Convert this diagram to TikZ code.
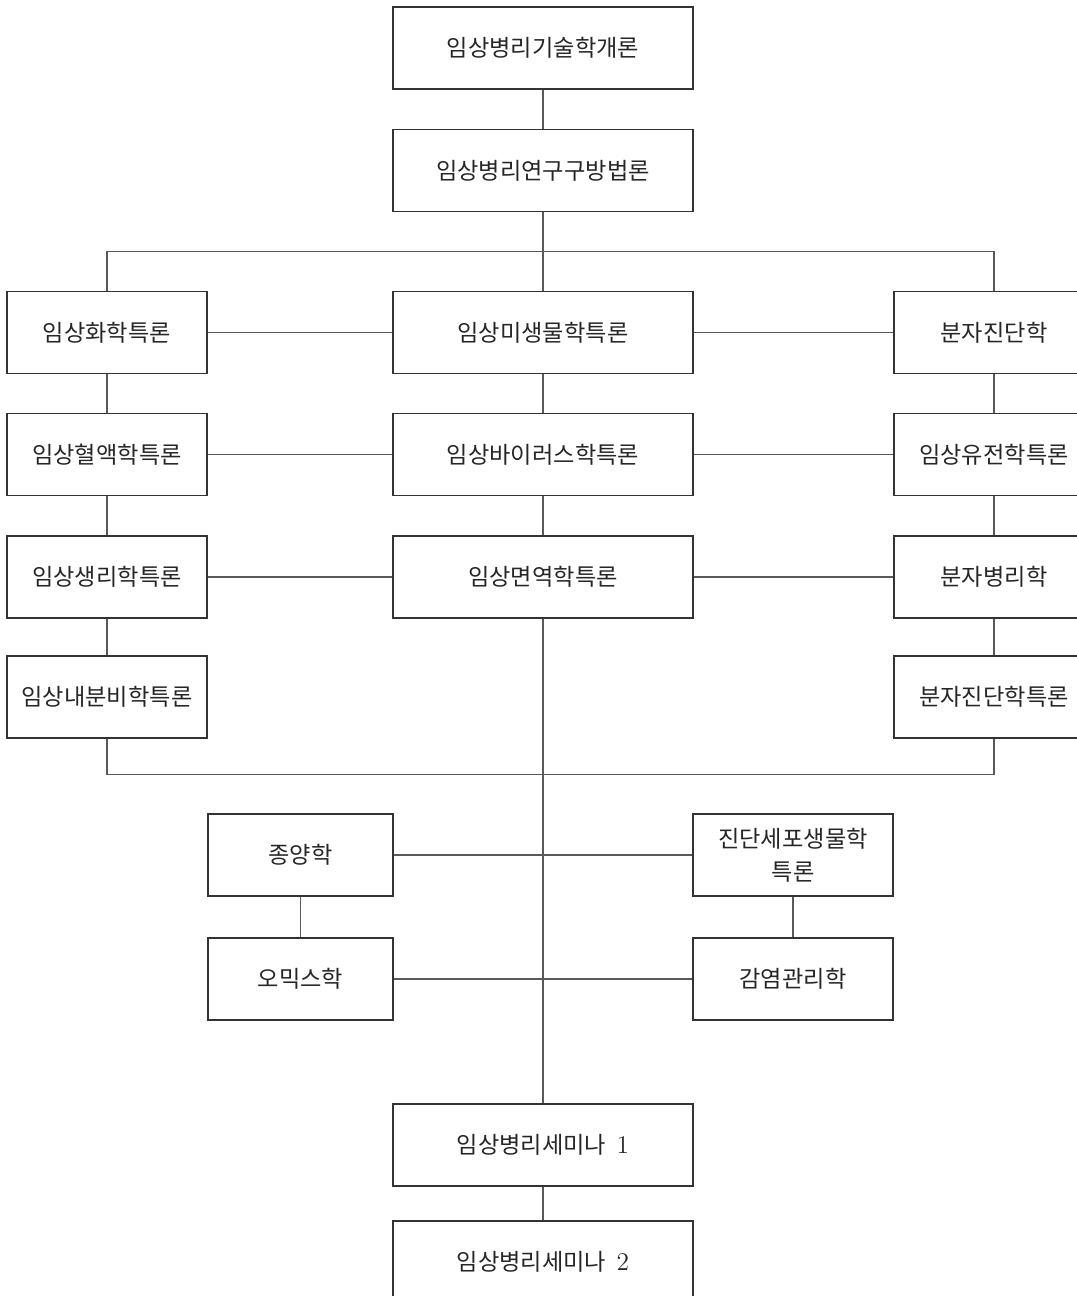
\documentclass[tikz,border=0pt]{standalone}
\usepackage{fontspec}
\newfontfamily\kr{Noto Sans CJK KR}

\begin{document}
\begin{tikzpicture}[
        subj/.style={draw=black!80, line width=0.7pt, minimum height=1.64cm,
                     align=center, text=black!85, inner sep=2pt,
                     font=\fontsize{13.2}{19}\selectfont\kr},
        wide/.style={subj, minimum width=6cm},
        narrow/.style={subj, minimum width=4cm},
        short/.style={subj, minimum width=3.7cm},
        line/.style={draw=black!65, line width=0.7pt},
        num/.style={font=\fontsize{14.5}{19}\selectfont\rmfamily},
    ]

    \useasboundingbox (-10.86,0.96) rectangle (10.68,-24.96);

    \node[wide] (intro) at (0,0) {임상병리기술학개론};
    \node[wide] (meth) at (0,-2.45) {임상병리연구구방법론};

    \draw[line] (intro) -- (meth);

    \node[narrow] (chem) at (-8.72,-5.69) {임상화학특론};
    \node[wide]   (micro) at (0,-5.69) {임상미생물학특론};
    \node[narrow] (mdx) at (9.02,-5.69) {분자진단학};

    \draw[line] (meth.south) -- ++(0,-0.79) -| (chem.north);
    \draw[line] (meth.south) -- ++(0,-0.79) -| (mdx.north);
    \draw[line] (meth) -- (micro);

    \node[narrow] (hema) at (-8.72,-8.13) {임상혈액학특론};
    \node[wide]   (viro) at (0,-8.13) {임상바이러스학특론};
    \node[narrow] (gen) at (9.02,-8.13) {임상유전학특론};

    \node[narrow] (phys) at (-8.72,-10.58) {임상생리학특론};
    \node[wide]   (immu) at (0,-10.58) {임상면역학특론};
    \node[narrow] (mpath) at (9.02,-10.58) {분자병리학};

    \node[narrow] (endo) at (-8.72,-12.98) {임상내분비학특론};
    \node[narrow] (mdxs) at (9.02,-12.98) {분자진단학특론};

    \draw[line] (chem) -- (micro) -- (mdx);
    \draw[line] (hema) -- (viro) -- (gen);
    \draw[line] (phys) -- (immu) -- (mpath);

    \draw[line] (chem) -- (hema) -- (phys) -- (endo);
    \draw[line] (micro) -- (viro) -- (immu);
    \draw[line] (mdx) -- (gen) -- (mpath) -- (mdxs);

    \draw[line] (endo.south) -- ++(0,-0.72) -| (mdxs.south);

    \node[short]  (onco) at (-4.85,-16.14) {종양학};
    \node[narrow] (cell) at (5.0,-16.14) {진단세포생물학\\특론};
    \node[short]  (omics) at (-4.85,-18.62) {오믹스학};
    \node[narrow] (infc) at (5.0,-18.62) {감염관리학};

    \draw[line] (onco) -- (cell);
    \draw[line] (omics) -- (infc);
    \draw[line] (onco) -- (omics);
    \draw[line] (cell) -- (infc);

    \node[wide] (sem1) at (0,-21.94)
        {임상병리세미나\hspace{0.45em}{\fontsize{14.5}{19}\selectfont\rmfamily 1}};
    \node[wide] (sem2) at (0,-24.28)
        {임상병리세미나\hspace{0.45em}{\fontsize{14.5}{19}\selectfont\rmfamily 2}};

    \draw[line] (immu) -- (sem1);
    \draw[line] (sem1) -- (sem2);

\end{tikzpicture}
\end{document}
